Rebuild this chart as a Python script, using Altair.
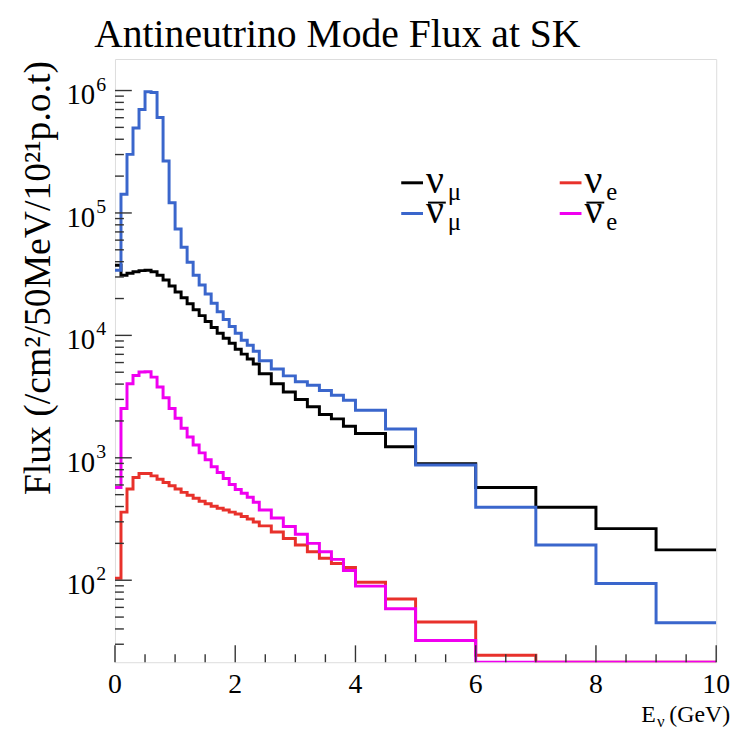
import altair as alt
import pandas as pd

# ---------------- data ----------------
edges = [0.0, 0.1, 0.2, 0.3, 0.4, 0.5, 0.6, 0.7, 0.8, 0.9, 1.0,
         1.1, 1.2, 1.3, 1.4, 1.5, 1.6, 1.7, 1.8, 1.9, 2.0,
         2.1, 2.2, 2.3, 2.4, 2.6, 2.8, 3.0, 3.2, 3.4, 3.6, 3.8, 4.0,
         4.5, 5.0, 6.0, 7.0, 8.0, 9.0, 10.0]

numu = [3.74e4, 3.10e4, 3.22e4, 3.31e4, 3.38e4, 3.41e4, 3.31e4, 3.10e4, 2.83e4, 2.53e4,
        2.26e4, 2.03e4, 1.81e4, 1.62e4, 1.45e4, 1.30e4, 1.16e4, 1.04e4, 9460, 8620,
        7710, 7030, 6405, 5836, 4850, 4030, 3450, 2990, 2610, 2260, 2080, 1810,
        1580, 1230, 895, 573, 395, 264, 177]

numubar = [3.41e4, 1.42e5, 3.01e5, 4.94e5, 6.99e5, 9.76e5, 9.63e5, 6.02e5, 2.66e5, 1.21e5,
           7.39e4, 5.25e4, 3.95e4, 3.10e4, 2.58e4, 2.18e4, 1.83e4, 1.56e4, 1.35e4, 1.18e4,
           1.04e4, 9115, 8305, 7430, 6200, 5320, 4670, 4180, 3910, 3550, 3240, 2950,
           2450, 1720, 873, 395, 194, 94, 45]

nue = [104, 360, 555, 690, 743, 743, 712, 668, 629, 591,
       555, 522, 494, 467, 442, 422, 402, 388, 374, 360,
       347, 331, 316, 299, 278, 248, 219, 194, 171, 151, 137, 127,
       96.4, 70.3, 45.6, 24.4, 10, 8, 6]

nuebar = [573, 2530, 4030, 4700, 5030, 5050, 4560, 3790, 3090, 2530,
          2100, 1745, 1477, 1273, 1097, 963, 846, 757, 677, 606,
          552, 513, 476, 434, 374, 322, 275, 237, 200, 171, 148, 120,
          89.5, 58.4, 32.2, 12, 8, 6, 4]

x_tick_major = [0, 2, 4, 6, 8, 10]
x_tick_labels = ["0", "2", "4", "6", "8", "10"]
x_tick_minor = [0.5, 1, 1.5, 2.5, 3, 3.5, 4.5, 5, 5.5, 6.5, 7, 7.5, 8.5, 9, 9.5]
y_tick_major = [1e2, 1e3, 1e4, 1e5, 1e6]
y_tick_exp = ["2", "3", "4", "5", "6"]
y_tick_minor = [30, 40, 50, 60, 70, 80, 90,
                200, 300, 400, 500, 600, 700, 800, 900,
                2e3, 3e3, 4e3, 5e3, 6e3, 7e3, 8e3, 9e3,
                2e4, 3e4, 4e4, 5e4, 6e4, 7e4, 8e4, 9e4,
                2e5, 3e5, 4e5, 5e5, 6e5, 7e5, 8e5, 9e5]

title_text = "Antineutrino Mode Flux at SK"
ytitle_text = "Flux (/cm\u00b2/50MeV/10\u00b2\u00b9p.o.t)"

# ---------------- styling ----------------
W, H = 607, 609
YMIN, YMAX = 21.4, 1.81e6
FONT = "Liberation Serif"
C_NUMU, C_NUMUBAR, C_NUE, C_NUEBAR = "#000000", "#3a66cc", "#e8312b", "#f000f0"
LW = 3

xscale = alt.Scale(domain=[0, 10], nice=False, zero=False)
yscale = alt.Scale(type="log", domain=[YMIN, YMAX], clamp=True, nice=False)


def hist_df(vals):
    return pd.DataFrame({"E": edges, "flux": list(vals) + [vals[-1]]})


def hist_layer(vals, color, with_axes=False):
    if with_axes:
        xax = alt.Axis(labels=False, ticks=False, domain=False, grid=False, title=None)
        yax = alt.Axis(values=y_tick_major, labels=False, ticks=False, domain=False,
                       grid=True, gridColor="#000000", gridDash=[1.5, 2.5],
                       gridWidth=1, gridOpacity=0.8, title=None)
    else:
        xax = None
        yax = None
    return alt.Chart(hist_df(vals)).mark_line(
        interpolate="step-after", color=color, strokeWidth=LW, clip=True
    ).encode(
        x=alt.X("E:Q", scale=xscale, axis=xax),
        y=alt.Y("flux:Q", scale=yscale, axis=yax),
    )


def yticks(vals, length):
    return alt.Chart(pd.DataFrame({"t": vals})).mark_rule(color="#333333", strokeWidth=1.4).encode(
        y=alt.Y("t:Q", scale=yscale, axis=None), x=alt.value(0), x2=alt.value(length))


def xticks(vals, length):
    return alt.Chart(pd.DataFrame({"t": vals})).mark_rule(color="#333333", strokeWidth=1.4).encode(
        x=alt.X("t:Q", scale=xscale, axis=None), y=alt.value(H), y2=alt.value(H - length))


def text_at(txt, x, y, size, color="black", align="left", angle=0, baseline="alphabetic"):
    return alt.Chart(pd.DataFrame({"s": [txt]})).mark_text(
        font=FONT, fontSize=size, color=color, align=align, baseline=baseline, angle=angle
    ).encode(text="s:N", x=alt.value(x), y=alt.value(y))


def dash(color, x0, x1, y, width=3):
    return alt.Chart(pd.DataFrame({"s": [0]})).mark_rule(color=color, strokeWidth=width).encode(
        x=alt.value(x0), x2=alt.value(x1), y=alt.value(y))


def legend_entry(color, sub, x, y, bar=False):
    out = [dash(color, x, x + 22, y),
           text_at("\u03bd", x + 25, y + 10, 40),
           text_at(sub, x + 47, y + 17, 25)]
    if bar:
        out.append(dash("black", x + 27, x + 45, y - 11, width=2))
    return out


ylab_df = pd.DataFrame({"t": y_tick_major, "base": ["10"] * len(y_tick_major), "exp": y_tick_exp})
ylab_base = alt.Chart(ylab_df).mark_text(font=FONT, fontSize=29, align="right", baseline="middle", dy=5).encode(
    y=alt.Y("t:Q", scale=yscale, axis=None), x=alt.value(-20), text="base:N")
ylab_exp = alt.Chart(ylab_df).mark_text(font=FONT, fontSize=20, align="left", baseline="middle", dy=-6).encode(
    y=alt.Y("t:Q", scale=yscale, axis=None), x=alt.value(-19), text="exp:N")

xlab_df = pd.DataFrame({"t": x_tick_major, "lab": x_tick_labels})
xlab = alt.Chart(xlab_df).mark_text(font=FONT, fontSize=28, align="center", baseline="alphabetic").encode(
    x=alt.X("t:Q", scale=xscale, axis=None), y=alt.value(H + 31), text="lab:N")

layers = [
    hist_layer(numu, C_NUMU, with_axes=True),
    hist_layer(numubar, C_NUMUBAR),
    hist_layer(nue, C_NUE),
    hist_layer(nuebar, C_NUEBAR),
    yticks(y_tick_major, 17), yticks(y_tick_minor, 9),
    xticks(x_tick_major, 17), xticks(x_tick_minor, 8),
    ylab_base, ylab_exp, xlab,
    text_at(title_text, -21, -12, 40),
    text_at(ytitle_text, -66, 2, 38, align="right", angle=270),
    text_at("(GeV)", 621, 669, 24, align="right"),
    text_at("\u03bd", 555, 674, 17, align="right"),
    text_at("E", 546, 669, 24, align="right"),
]
layers += legend_entry(C_NUMU, "\u03bc", 289, 125)
layers += legend_entry(C_NUMUBAR, "\u03bc", 289, 156, bar=True)
layers += legend_entry(C_NUE, "e", 449, 125)
layers += legend_entry(C_NUEBAR, "e", 449, 156, bar=True)

chart = alt.layer(*layers).properties(
    width=W, height=H,
    padding={"left": 108, "top": 48, "right": 21, "bottom": 68},
    autosize=alt.AutoSizeParams(type="none"),
).configure_view(stroke="#333333", strokeWidth=2).configure(background="white")

chart.save("out.html", embed_options={"renderer": "svg", "actions": False})
